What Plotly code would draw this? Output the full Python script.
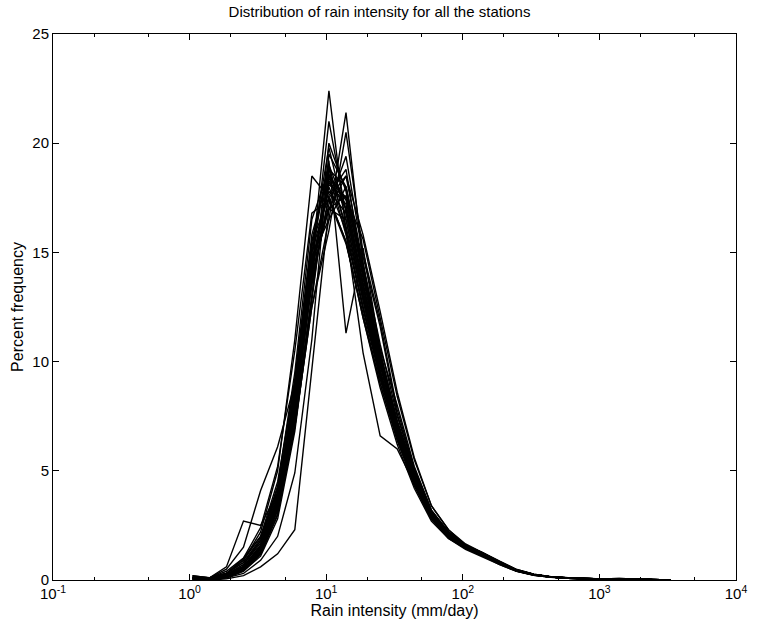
import plotly.graph_objects as go

# Rain intensity bin centres (mm/day)
rain_intensity = [1.05, 1.40, 1.86, 2.48, 3.31, 4.41, 5.89, 7.85, 10.47, 13.96, 18.62, 24.83,
                  33.11, 44.15, 58.88, 78.52, 104.7, 139.6, 186.2, 248.3, 331.1, 441.5,
                  588.8, 785.2, 1047, 1396, 1862, 2483, 3311]

s01 = [0.05,0.0,0.1,0.4,1.2,3.0,7.5,14.5,22.4,16.0,12.5,9.5,6.8,4.6,2.9,2.0,1.5,1.1,0.7,0.4,0.22,0.12,0.08,0.05,0.04,0.05,0.02,0.01,0.0]
s02 = [0.1,0.05,0.15,0.5,1.3,3.2,7.0,12.5,16.5,21.4,14.5,10.0,7.0,4.7,3.0,2.1,1.5,1.15,0.75,0.42,0.24,0.13,0.08,0.06,0.05,0.06,0.03,0.01,0.0]
s03 = [0.1,0.05,0.2,0.6,1.6,3.8,8.5,15.0,19.2,11.3,15.2,10.5,7.2,4.8,3.0,2.1,1.55,1.2,0.8,0.45,0.25,0.14,0.09,0.06,0.05,0.06,0.03,0.01,0.0]
s04 = [0.15,0.1,0.3,0.9,2.2,5.0,11.0,18.5,17.5,15.5,12.0,9.0,6.4,4.3,2.8,1.9,1.45,1.1,0.75,0.42,0.24,0.13,0.08,0.05,0.04,0.05,0.02,0.01,0.0]
s05 = [0.2,0.1,0.5,1.5,4.1,6.1,9.0,15.5,17.5,15.5,12.0,8.8,6.2,4.2,2.7,1.9,1.4,1.05,0.7,0.4,0.22,0.12,0.08,0.05,0.04,0.05,0.02,0.01,0.0]
s06 = [0.1,0.1,0.6,2.7,2.5,4.0,8.0,14.0,17.0,16.5,13.0,9.5,6.8,4.6,2.9,2.0,1.5,1.15,0.75,0.42,0.24,0.13,0.08,0.05,0.04,0.05,0.02,0.01,0.0]
s07 = [0.1,0.05,0.3,1.0,2.0,4.0,7.5,13.0,18.5,17.5,13.5,10.0,7.0,4.8,3.0,2.1,1.55,1.2,0.8,0.45,0.25,0.14,0.09,0.06,0.05,0.06,0.03,0.01,0.0]
s08 = [0.0,0.0,0.05,0.2,0.6,1.2,2.3,9.5,17.0,18.5,14.5,10.8,7.5,5.1,3.2,2.2,1.6,1.2,0.8,0.45,0.25,0.14,0.09,0.06,0.05,0.06,0.03,0.01,0.0]
s09 = [0.05,0.0,0.1,0.3,0.9,2.0,4.9,11.0,19.5,18.0,14.0,10.2,7.1,4.9,3.1,2.1,1.55,1.2,0.8,0.45,0.25,0.14,0.09,0.06,0.05,0.06,0.03,0.01,0.0]
s10 = [0.1,0.05,0.2,0.6,1.5,3.6,8.2,14.5,18.0,16.0,10.4,6.6,6.0,4.4,3.1,2.1,1.6,1.2,0.8,0.45,0.25,0.14,0.09,0.06,0.05,0.06,0.03,0.01,0.0]
s11 = [0.1,0.05,0.2,0.5,1.4,3.4,7.8,13.5,17.5,18.5,15.8,12.3,8.6,5.6,3.4,2.3,1.6,1.25,0.85,0.48,0.27,0.15,0.1,0.07,0.05,0.07,0.03,0.01,0.0]
s12 = [0.1,0.1,0.25,0.7,1.7,3.9,8.8,15.5,19.0,16.0,12.5,9.3,6.6,4.5,2.9,2.0,1.5,1.15,0.75,0.42,0.23,0.13,0.08,0.05,0.04,0.05,0.02,0.01,0.0]
s13 = [0.05,0.05,0.15,0.45,1.2,3.0,7.2,13.0,20.0,17.8,13.8,10.3,7.2,4.9,3.1,2.1,1.55,1.2,0.8,0.45,0.25,0.14,0.09,0.06,0.05,0.06,0.03,0.01,0.0]
s14 = [0.1,0.05,0.2,0.6,1.6,3.7,8.6,14.8,16.5,18.0,14.2,10.4,7.3,5.0,3.1,2.2,1.6,1.2,0.8,0.45,0.25,0.14,0.09,0.06,0.05,0.06,0.03,0.01,0.0]
s15 = [0.15,0.1,0.3,0.8,1.9,4.3,9.5,16.5,18.8,16.2,12.8,9.4,6.6,4.5,2.9,2.0,1.5,1.1,0.75,0.42,0.24,0.13,0.08,0.05,0.04,0.05,0.02,0.01,0.0]
s16 = [0.1,0.05,0.2,0.5,1.3,3.3,7.6,13.8,17.2,19.4,14.8,11.6,7.6,5.0,3.1,2.2,1.6,1.2,0.8,0.45,0.25,0.14,0.09,0.06,0.05,0.06,0.03,0.01,0.0]
s17 = [0.05,0.05,0.15,0.5,1.3,3.2,7.8,14.2,21.0,16.8,13.2,9.8,6.9,4.7,3.0,2.0,1.5,1.15,0.75,0.42,0.24,0.13,0.08,0.05,0.04,0.05,0.02,0.01,0.0]
s18 = [0.1,0.05,0.2,0.6,1.5,3.5,8.2,14.0,18.4,17.4,13.6,10.1,7.0,4.8,3.0,2.1,1.55,1.2,0.8,0.45,0.25,0.14,0.09,0.06,0.05,0.06,0.03,0.01,0.0]
s19 = [0.1,0.1,0.3,0.9,2.0,4.5,9.0,15.0,17.8,16.8,13.2,9.6,6.7,4.6,2.9,2.0,1.5,1.15,0.78,0.43,0.24,0.13,0.08,0.05,0.04,0.05,0.02,0.01,0.0]
s20 = [0.05,0.05,0.1,0.4,1.1,2.8,6.8,12.8,18.8,18.0,14.4,10.6,8.0,5.2,3.2,2.2,1.6,1.25,0.82,0.46,0.26,0.14,0.09,0.06,0.05,0.06,0.03,0.01,0.0]
s21 = [0.1,0.05,0.2,0.6,1.5,3.6,8.4,15.2,19.8,16.5,12.8,9.5,6.7,4.6,2.9,2.0,1.5,1.15,0.76,0.42,0.24,0.13,0.08,0.05,0.04,0.05,0.02,0.01,0.0]
s22 = [0.1,0.05,0.25,0.7,1.8,4.0,8.8,14.6,17.0,17.6,14.0,10.3,7.2,4.9,3.1,2.1,1.55,1.2,0.8,0.45,0.25,0.14,0.09,0.06,0.05,0.06,0.03,0.01,0.0]
s23 = [0.1,0.05,0.2,0.55,1.4,3.4,7.9,14.4,18.2,17.2,13.4,9.9,6.9,4.8,3.0,2.1,1.55,1.2,0.8,0.45,0.25,0.14,0.09,0.06,0.05,0.06,0.03,0.01,0.0]
s24 = [0.05,0.05,0.15,0.45,1.2,3.0,7.0,12.5,16.0,20.5,15.0,11.8,7.8,5.1,3.1,2.2,1.6,1.2,0.8,0.45,0.25,0.14,0.09,0.06,0.05,0.06,0.03,0.01,0.0]
s25 = [0.1,0.1,0.3,0.8,1.8,4.2,9.2,15.8,18.6,15.8,12.4,9.2,6.5,4.4,2.8,1.95,1.45,1.1,0.74,0.41,0.23,0.13,0.08,0.05,0.04,0.05,0.02,0.01,0.0]
s26 = [0.1,0.05,0.2,0.6,1.5,3.5,8.0,13.6,17.6,18.8,14.0,10.2,7.1,4.9,3.1,2.1,1.55,1.2,0.8,0.45,0.25,0.14,0.09,0.06,0.05,0.06,0.03,0.01,0.0]
s27 = [0.05,0.05,0.15,0.5,1.3,3.2,7.4,14.0,19.0,17.0,13.5,10.0,7.0,4.8,3.0,2.1,1.55,1.2,0.8,0.45,0.25,0.14,0.09,0.06,0.05,0.06,0.03,0.01,0.0]
s28 = [0.2,0.1,0.4,1.0,2.4,5.2,10.5,16.8,17.4,15.4,12.2,9.0,6.4,4.4,2.8,1.95,1.45,1.1,0.74,0.41,0.23,0.13,0.08,0.05,0.04,0.05,0.02,0.01,0.0]
s29 = [0.1,0.05,0.2,0.6,1.5,3.6,8.3,14.3,18.1,17.5,15.6,12.0,8.4,5.5,3.4,2.3,1.65,1.25,0.85,0.48,0.27,0.15,0.1,0.07,0.05,0.07,0.03,0.01,0.0]
s30 = [0.1,0.05,0.2,0.6,1.5,3.6,8.0,14.2,18.3,17.0,13.0,9.6,6.8,4.6,2.9,2.0,1.5,1.15,0.76,0.42,0.24,0.13,0.08,0.05,0.04,0.05,0.02,0.01,0.0]

stations = [s01, s02, s03, s04, s05, s06, s07, s08, s09, s10, s11, s12, s13, s14, s15,
            s16, s17, s18, s19, s20, s21, s22, s23, s24, s25, s26, s27, s28, s29, s30]

x_tick_vals = [0.1, 1, 10, 100, 1000, 10000]
x_tick_text = ["10<sup>-1</sup>", "10<sup>0</sup>", "10<sup>1</sup>", "10<sup>2</sup>",
               "10<sup>3</sup>", "10<sup>4</sup>"]
y_tick_vals = [0, 5, 10, 15, 20, 25]

FONT = "Liberation Sans, Arial, Helvetica, sans-serif"

fig = go.Figure()
for vals in stations:
    fig.add_trace(go.Scatter(x=rain_intensity, y=vals, mode="lines",
                             line=dict(color="black", width=1.4), showlegend=False,
                             hoverinfo="skip"))

fig.update_layout(
    width=759, height=632,
    margin=dict(l=53, r=13, t=34, b=52),
    paper_bgcolor="white", plot_bgcolor="white",
    font=dict(family=FONT, color="black", size=15),
    title=dict(text="Distribution of rain intensity for all the stations",
               x=0.5, xanchor="center", y=1 - 12 / 632, yanchor="middle",
               font=dict(size=15, family=FONT, color="black")),
)
fig.update_xaxes(
    type="log", range=[-1, 4], tickvals=x_tick_vals, ticktext=x_tick_text,
    showgrid=False, zeroline=False, showline=True, linecolor="black", linewidth=1,
    mirror="allticks", ticks="inside", ticklen=6, tickcolor="black",
    minor=dict(ticks="inside", ticklen=3, tickcolor="black", showgrid=False),
    tickfont=dict(size=15, family=FONT),
    title=dict(text="Rain intensity (mm/day)", font=dict(size=16, family=FONT), standoff=0),
)
fig.update_yaxes(
    range=[0, 25], tickvals=y_tick_vals,
    showgrid=False, zeroline=False, showline=True, linecolor="black", linewidth=1,
    mirror="allticks", ticks="inside", ticklen=6, tickcolor="black",
    tickfont=dict(size=15, family=FONT),
    title=dict(text="Percent frequency", font=dict(size=16, family=FONT), standoff=4),
)

fig.write_html("out.html")
